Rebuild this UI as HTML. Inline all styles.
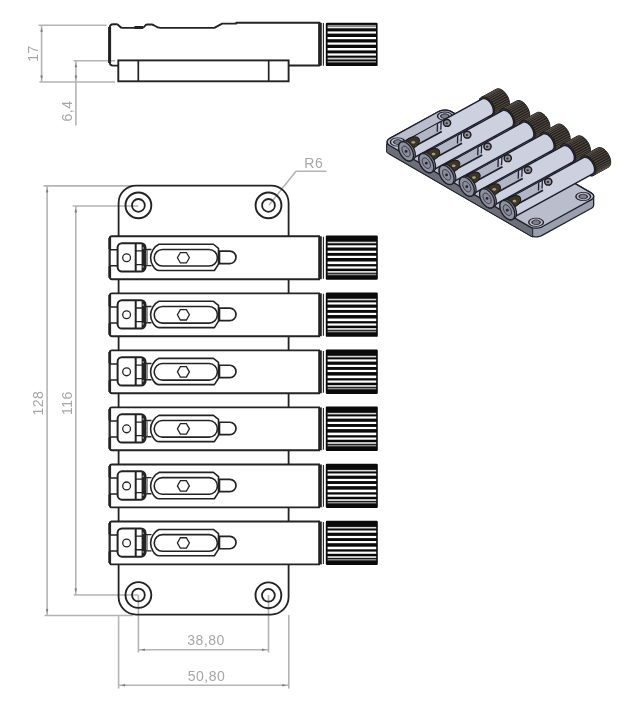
<!DOCTYPE html><html><head><meta charset="utf-8"><style>html,body{margin:0;padding:0;background:#fff;}svg{display:block;}</style></head><body><svg width="637" height="712" viewBox="0 0 637 712">
<rect width="637" height="712" fill="#fff"/>
<path d="M 38.5 25.2 H 106.5 M 39.4 82 H 115 M 41.6 25.2 V 82 M 73.6 60.8 H 115 M 75.9 60.8 V 125.5" stroke="#b4b4b4" stroke-width="1.6" fill="none"/>
<polygon points="41.6,27.8 40.3,31.4 41.6,32 42.9,31.4" fill="#808080"/>
<polygon points="41.6,79.4 40.3,75.8 41.6,75.2 42.9,75.8" fill="#808080"/>
<polygon points="75.9,63.4 74.6,67 75.9,67.6 77.2,67" fill="#808080"/>
<polygon points="75.9,79.4 74.6,75.8 75.9,75.2 77.2,75.8" fill="#808080"/>
<path d="M 43.5 185.9 H 133 M 44.5 615.5 H 133 M 47.1 185.9 V 615.5 M 72.6 206 H 138.3 M 73.7 595 H 138.3 M 75.8 206 V 595" stroke="#b4b4b4" stroke-width="1.6" fill="none"/>
<polygon points="47.1,188.5 45.8,192.1 47.1,192.7 48.4,192.1" fill="#808080"/>
<polygon points="47.1,612.9 45.8,609.3 47.1,608.7 48.4,609.3" fill="#808080"/>
<polygon points="75.8,208.6 74.5,212.2 75.8,212.8 77.1,212.2" fill="#808080"/>
<polygon points="75.8,592.4 74.5,588.8 75.8,588.2 77.1,588.8" fill="#808080"/>
<path d="M 138.4 595 V 652.5 M 268.5 595 V 652.5 M 138.4 649.7 H 268.5 M 118.6 615 V 688.5 M 288.8 615 V 688.5 M 118.6 685.3 H 288.8" stroke="#b4b4b4" stroke-width="1.6" fill="none"/>
<polygon points="141,649.7 144.6,648.4 145.2,649.7 144.6,651" fill="#808080"/>
<polygon points="265.9,649.7 262.3,648.4 261.7,649.7 262.3,651" fill="#808080"/>
<polygon points="121.2,685.3 124.8,684 125.4,685.3 124.8,686.6" fill="#808080"/>
<polygon points="286.2,685.3 282.6,684 282,685.3 282.6,686.6" fill="#808080"/>
<path d="M 269 205 L 296 171.2 H 326.5" stroke="#b4b4b4" stroke-width="1.6" fill="none"/>
<g opacity="0.995">
<text x="0" y="0" style="font-family:&quot;Liberation Sans&quot;,sans-serif" font-size="14" fill="#a6a6a6" letter-spacing="0.5" text-anchor="middle" transform="translate(38 53.4) rotate(-90)">17</text>
<text x="0" y="0" style="font-family:&quot;Liberation Sans&quot;,sans-serif" font-size="14" fill="#a6a6a6" letter-spacing="0.5" text-anchor="middle" transform="translate(72 111) rotate(-90)">6,4</text>
<text x="0" y="0" style="font-family:&quot;Liberation Sans&quot;,sans-serif" font-size="14" fill="#a6a6a6" letter-spacing="0.5" text-anchor="middle" transform="translate(43.3 403.2) rotate(-90)">128</text>
<text x="0" y="0" style="font-family:&quot;Liberation Sans&quot;,sans-serif" font-size="14" fill="#a6a6a6" letter-spacing="0.5" text-anchor="middle" transform="translate(72.1 403.2) rotate(-90)">116</text>
<text x="206.1" y="645.3" style="font-family:&quot;Liberation Sans&quot;,sans-serif" font-size="14" fill="#a6a6a6" letter-spacing="0.5" text-anchor="middle">38,80</text>
<text x="206.5" y="680.8" style="font-family:&quot;Liberation Sans&quot;,sans-serif" font-size="14" fill="#a6a6a6" letter-spacing="0.5" text-anchor="middle">50,80</text>
<text x="313.8" y="168.2" style="font-family:&quot;Liberation Sans&quot;,sans-serif" font-size="14" fill="#a6a6a6" letter-spacing="0.5" text-anchor="middle">R6</text>
</g>
<rect x="118.3" y="60.4" width="170.3" height="20.9" fill="none" stroke="#232323" stroke-width="1.9"/>
<line x1="138.3" y1="60.4" x2="138.3" y2="81.3" stroke="#232323" stroke-width="1.7"/>
<line x1="268.7" y1="60.4" x2="268.7" y2="81.3" stroke="#232323" stroke-width="1.7"/>
<path d="M 118.3 65.6 H 113.2 Q 109.7 65.6 109.7 62 V 28 Q 109.7 24.3 113.2 24.3 H 116.5 C 119 24.3 119.6 27.9 122.5 27.9 H 134.5 L 143 27.6 C 144.6 27.4 144.8 24.5 147.2 24.5 H 151.6 C 154 24.5 156 27.8 160.5 27.9 H 214.3 L 222.2 23.6 H 236.3 V 22.8 H 319.6 V 65.5 H 288.6" fill="none" stroke="#232323" stroke-width="1.9" stroke-linejoin="round"/>
<line x1="109.6" y1="27" x2="109.6" y2="63" stroke="#232323" stroke-width="3"/>
<line x1="134.5" y1="27.6" x2="143" y2="27.4" stroke="#232323" stroke-width="3"/>
<line x1="320" y1="22.8" x2="320" y2="65.7" stroke="#232323" stroke-width="3.6"/>
<line x1="323.4" y1="23" x2="323.4" y2="65.8" stroke="#222" stroke-width="1.1"/>
<rect x="325.8" y="22.7" width="51.8" height="43.4" rx="1.2" fill="#0a0a0a"/>
<rect x="327.6" y="24.9" width="48.4" height="1.4" fill="#8a8a8a"/>
<rect x="327.6" y="26.5" width="48.4" height="1.8" fill="#e8e8e8"/>
<rect x="327.6" y="31.4" width="48.4" height="2.2" fill="#fff"/>
<rect x="327.6" y="37" width="48.4" height="2.2" fill="#fff"/>
<rect x="327.6" y="42.5" width="48.4" height="2.2" fill="#fff"/>
<rect x="327.6" y="48" width="48.4" height="2.4" fill="#fff"/>
<rect x="327.6" y="53.4" width="48.4" height="2.2" fill="#fff"/>
<rect x="327.6" y="57.7" width="48.4" height="1.8" fill="#d0d0d0"/>
<rect x="327.6" y="61" width="48.4" height="1.6" fill="#8c8c8c"/>
<rect x="118.6" y="185.6" width="170.00000000000003" height="429.0" rx="17.5" fill="none" stroke="#232323" stroke-width="1.8"/>
<circle cx="138.4" cy="205.4" r="12.9" fill="none" stroke="#232323" stroke-width="1.9"/>
<circle cx="138.4" cy="205.4" r="6.4" fill="none" stroke="#232323" stroke-width="1.8"/>
<circle cx="268.5" cy="205.4" r="12.9" fill="none" stroke="#232323" stroke-width="1.9"/>
<circle cx="268.5" cy="205.4" r="6.4" fill="none" stroke="#232323" stroke-width="1.8"/>
<circle cx="138.4" cy="595" r="12.9" fill="none" stroke="#232323" stroke-width="1.9"/>
<circle cx="138.4" cy="595" r="6.4" fill="none" stroke="#232323" stroke-width="1.8"/>
<circle cx="268.4" cy="595.3" r="12.9" fill="none" stroke="#232323" stroke-width="1.9"/>
<circle cx="268.4" cy="595.3" r="6.4" fill="none" stroke="#232323" stroke-width="1.8"/>
<path d="M 320 236.3 H 112 Q 109.8 236.3 109.8 238.5 V 277 Q 109.8 279.2 112 279.2 H 320" fill="#fff" stroke="#232323" stroke-width="1.9"/>
<line x1="109.7" y1="237.8" x2="109.7" y2="249.45" stroke="#232323" stroke-width="2.8"/>
<line x1="109.7" y1="266.05" x2="109.7" y2="277.7" stroke="#232323" stroke-width="2.8"/>
<line x1="109.1" y1="249.75" x2="109.1" y2="265.75" stroke="#333" stroke-width="1"/>
<path d="M 109.5 249.85 H 117.6 M 109.5 265.85 H 117.6" stroke="#232323" stroke-width="1.5" fill="none"/>
<rect x="117.6" y="243.2" width="27.9" height="28.3" rx="4.4" fill="#fff" stroke="#232323" stroke-width="2"/>
<circle cx="126.6" cy="257.75" r="3.9" fill="none" stroke="#232323" stroke-width="1.3"/>
<line x1="135.7" y1="243.2" x2="135.7" y2="271.5" stroke="#232323" stroke-width="2"/>
<path d="M 135.7 250.95 H 145.4 M 135.7 264.55 H 145.4" stroke="#232323" stroke-width="1.3" fill="none"/>
<rect x="141.6" y="243.9" width="3.4" height="27" fill="#232323"/>
<rect x="142.4" y="247.2" width="1.5" height="1.7" fill="#888"/>
<rect x="142.4" y="265.9" width="1.5" height="1.7" fill="#888"/>
<path d="M 145.5 249.45 H 151.5 M 145.5 265.65 H 151.5" stroke="#232323" stroke-width="1.4" fill="none"/>
<line x1="147.3" y1="249.75" x2="147.3" y2="265.75" stroke="#555" stroke-width="0.8"/>
<path d="M 159 244.25 H 213.4 L 218.5 248.35 V 264.15 L 214.4 270.55 H 159 C 154 270.25 150.6 262.75 150.6 257.75 C 150.6 252.75 154 246.25 159 244.25 Z" fill="none" stroke="#232323" stroke-width="1.6" stroke-linejoin="round"/>
<rect x="154.2" y="249.45" width="63.2" height="16.6" rx="8.3" fill="none" stroke="#232323" stroke-width="1.6"/>
<polygon points="189.4,257.75 186.4,262.95 180.4,262.95 177.4,257.75 180.4,252.55 186.4,252.55" fill="none" stroke="#232323" stroke-width="1.3"/>
<path d="M 219 251.15 H 229.8 A 6.2 6.2 0 0 1 229.8 263.55 H 219" fill="#fff" stroke="#232323" stroke-width="1.7"/>
<line x1="219.2" y1="251.15" x2="219.2" y2="263.55" stroke="#232323" stroke-width="2.2"/>
<line x1="320" y1="236.3" x2="320" y2="279.2" stroke="#232323" stroke-width="3.6"/>
<line x1="323.4" y1="236.8" x2="323.4" y2="278.7" stroke="#222" stroke-width="1.1"/>
<rect x="325.8" y="235.5" width="52" height="44.3" rx="1.2" fill="#0a0a0a"/>
<rect x="327.6" y="241.7" width="48.6" height="1.6" fill="#d8d8d8"/>
<rect x="327.6" y="245.3" width="48.6" height="2.2" fill="#fff"/>
<rect x="327.6" y="250.7" width="48.6" height="2.2" fill="#fff"/>
<rect x="327.6" y="255.8" width="48.6" height="2.2" fill="#fff"/>
<rect x="327.6" y="261.5" width="48.6" height="2.6" fill="#fff"/>
<rect x="327.6" y="266.4" width="48.6" height="2.2" fill="#fff"/>
<rect x="327.6" y="271" width="48.6" height="1.8" fill="#d8d8d8"/>
<rect x="327.6" y="273.7" width="48.6" height="1.6" fill="#8a8a8a"/>
<path d="M 320 293.34 H 112 Q 109.8 293.34 109.8 295.54 V 334.04 Q 109.8 336.24 112 336.24 H 320" fill="#fff" stroke="#232323" stroke-width="1.9"/>
<line x1="109.7" y1="294.84" x2="109.7" y2="306.49" stroke="#232323" stroke-width="2.8"/>
<line x1="109.7" y1="323.09" x2="109.7" y2="334.74" stroke="#232323" stroke-width="2.8"/>
<line x1="109.1" y1="306.79" x2="109.1" y2="322.79" stroke="#333" stroke-width="1"/>
<path d="M 109.5 306.89 H 117.6 M 109.5 322.89 H 117.6" stroke="#232323" stroke-width="1.5" fill="none"/>
<rect x="117.6" y="300.24" width="27.9" height="28.3" rx="4.4" fill="#fff" stroke="#232323" stroke-width="2"/>
<circle cx="126.6" cy="314.79" r="3.9" fill="none" stroke="#232323" stroke-width="1.3"/>
<line x1="135.7" y1="300.24" x2="135.7" y2="328.54" stroke="#232323" stroke-width="2"/>
<path d="M 135.7 307.99 H 145.4 M 135.7 321.59 H 145.4" stroke="#232323" stroke-width="1.3" fill="none"/>
<rect x="141.6" y="300.94" width="3.4" height="27" fill="#232323"/>
<rect x="142.4" y="304.24" width="1.5" height="1.7" fill="#888"/>
<rect x="142.4" y="322.94" width="1.5" height="1.7" fill="#888"/>
<path d="M 145.5 306.49 H 151.5 M 145.5 322.69 H 151.5" stroke="#232323" stroke-width="1.4" fill="none"/>
<line x1="147.3" y1="306.79" x2="147.3" y2="322.79" stroke="#555" stroke-width="0.8"/>
<path d="M 159 301.29 H 213.4 L 218.5 305.39 V 321.19 L 214.4 327.59 H 159 C 154 327.29 150.6 319.79 150.6 314.79 C 150.6 309.79 154 303.29 159 301.29 Z" fill="none" stroke="#232323" stroke-width="1.6" stroke-linejoin="round"/>
<rect x="154.2" y="306.49" width="63.2" height="16.6" rx="8.3" fill="none" stroke="#232323" stroke-width="1.6"/>
<polygon points="189.4,314.79 186.4,319.99 180.4,319.99 177.4,314.79 180.4,309.59 186.4,309.59" fill="none" stroke="#232323" stroke-width="1.3"/>
<path d="M 219 308.19 H 229.8 A 6.2 6.2 0 0 1 229.8 320.59 H 219" fill="#fff" stroke="#232323" stroke-width="1.7"/>
<line x1="219.2" y1="308.19" x2="219.2" y2="320.59" stroke="#232323" stroke-width="2.2"/>
<line x1="320" y1="293.34" x2="320" y2="336.24" stroke="#232323" stroke-width="3.6"/>
<line x1="323.4" y1="293.84" x2="323.4" y2="335.74" stroke="#222" stroke-width="1.1"/>
<rect x="325.8" y="292.54" width="52" height="44.3" rx="1.2" fill="#0a0a0a"/>
<rect x="327.6" y="298.74" width="48.6" height="1.6" fill="#d8d8d8"/>
<rect x="327.6" y="302.34" width="48.6" height="2.2" fill="#fff"/>
<rect x="327.6" y="307.74" width="48.6" height="2.2" fill="#fff"/>
<rect x="327.6" y="312.84" width="48.6" height="2.2" fill="#fff"/>
<rect x="327.6" y="318.54" width="48.6" height="2.6" fill="#fff"/>
<rect x="327.6" y="323.44" width="48.6" height="2.2" fill="#fff"/>
<rect x="327.6" y="328.04" width="48.6" height="1.8" fill="#d8d8d8"/>
<rect x="327.6" y="330.74" width="48.6" height="1.6" fill="#8a8a8a"/>
<path d="M 320 350.38 H 112 Q 109.8 350.38 109.8 352.58 V 391.08 Q 109.8 393.28 112 393.28 H 320" fill="#fff" stroke="#232323" stroke-width="1.9"/>
<line x1="109.7" y1="351.88" x2="109.7" y2="363.53" stroke="#232323" stroke-width="2.8"/>
<line x1="109.7" y1="380.13" x2="109.7" y2="391.78" stroke="#232323" stroke-width="2.8"/>
<line x1="109.1" y1="363.83" x2="109.1" y2="379.83" stroke="#333" stroke-width="1"/>
<path d="M 109.5 363.93 H 117.6 M 109.5 379.93 H 117.6" stroke="#232323" stroke-width="1.5" fill="none"/>
<rect x="117.6" y="357.28" width="27.9" height="28.3" rx="4.4" fill="#fff" stroke="#232323" stroke-width="2"/>
<circle cx="126.6" cy="371.83" r="3.9" fill="none" stroke="#232323" stroke-width="1.3"/>
<line x1="135.7" y1="357.28" x2="135.7" y2="385.58" stroke="#232323" stroke-width="2"/>
<path d="M 135.7 365.03 H 145.4 M 135.7 378.63 H 145.4" stroke="#232323" stroke-width="1.3" fill="none"/>
<rect x="141.6" y="357.98" width="3.4" height="27" fill="#232323"/>
<rect x="142.4" y="361.28" width="1.5" height="1.7" fill="#888"/>
<rect x="142.4" y="379.98" width="1.5" height="1.7" fill="#888"/>
<path d="M 145.5 363.53 H 151.5 M 145.5 379.73 H 151.5" stroke="#232323" stroke-width="1.4" fill="none"/>
<line x1="147.3" y1="363.83" x2="147.3" y2="379.83" stroke="#555" stroke-width="0.8"/>
<path d="M 159 358.33 H 213.4 L 218.5 362.43 V 378.23 L 214.4 384.63 H 159 C 154 384.33 150.6 376.83 150.6 371.83 C 150.6 366.83 154 360.33 159 358.33 Z" fill="none" stroke="#232323" stroke-width="1.6" stroke-linejoin="round"/>
<rect x="154.2" y="363.53" width="63.2" height="16.6" rx="8.3" fill="none" stroke="#232323" stroke-width="1.6"/>
<polygon points="189.4,371.83 186.4,377.03 180.4,377.03 177.4,371.83 180.4,366.63 186.4,366.63" fill="none" stroke="#232323" stroke-width="1.3"/>
<path d="M 219 365.23 H 229.8 A 6.2 6.2 0 0 1 229.8 377.63 H 219" fill="#fff" stroke="#232323" stroke-width="1.7"/>
<line x1="219.2" y1="365.23" x2="219.2" y2="377.63" stroke="#232323" stroke-width="2.2"/>
<line x1="320" y1="350.38" x2="320" y2="393.28" stroke="#232323" stroke-width="3.6"/>
<line x1="323.4" y1="350.88" x2="323.4" y2="392.78" stroke="#222" stroke-width="1.1"/>
<rect x="325.8" y="349.58" width="52" height="44.3" rx="1.2" fill="#0a0a0a"/>
<rect x="327.6" y="355.78" width="48.6" height="1.6" fill="#d8d8d8"/>
<rect x="327.6" y="359.38" width="48.6" height="2.2" fill="#fff"/>
<rect x="327.6" y="364.78" width="48.6" height="2.2" fill="#fff"/>
<rect x="327.6" y="369.88" width="48.6" height="2.2" fill="#fff"/>
<rect x="327.6" y="375.58" width="48.6" height="2.6" fill="#fff"/>
<rect x="327.6" y="380.48" width="48.6" height="2.2" fill="#fff"/>
<rect x="327.6" y="385.08" width="48.6" height="1.8" fill="#d8d8d8"/>
<rect x="327.6" y="387.78" width="48.6" height="1.6" fill="#8a8a8a"/>
<path d="M 320 407.42 H 112 Q 109.8 407.42 109.8 409.62 V 448.12 Q 109.8 450.32 112 450.32 H 320" fill="#fff" stroke="#232323" stroke-width="1.9"/>
<line x1="109.7" y1="408.92" x2="109.7" y2="420.57" stroke="#232323" stroke-width="2.8"/>
<line x1="109.7" y1="437.17" x2="109.7" y2="448.82" stroke="#232323" stroke-width="2.8"/>
<line x1="109.1" y1="420.87" x2="109.1" y2="436.87" stroke="#333" stroke-width="1"/>
<path d="M 109.5 420.97 H 117.6 M 109.5 436.97 H 117.6" stroke="#232323" stroke-width="1.5" fill="none"/>
<rect x="117.6" y="414.32" width="27.9" height="28.3" rx="4.4" fill="#fff" stroke="#232323" stroke-width="2"/>
<circle cx="126.6" cy="428.87" r="3.9" fill="none" stroke="#232323" stroke-width="1.3"/>
<line x1="135.7" y1="414.32" x2="135.7" y2="442.62" stroke="#232323" stroke-width="2"/>
<path d="M 135.7 422.07 H 145.4 M 135.7 435.67 H 145.4" stroke="#232323" stroke-width="1.3" fill="none"/>
<rect x="141.6" y="415.02" width="3.4" height="27" fill="#232323"/>
<rect x="142.4" y="418.32" width="1.5" height="1.7" fill="#888"/>
<rect x="142.4" y="437.02" width="1.5" height="1.7" fill="#888"/>
<path d="M 145.5 420.57 H 151.5 M 145.5 436.77 H 151.5" stroke="#232323" stroke-width="1.4" fill="none"/>
<line x1="147.3" y1="420.87" x2="147.3" y2="436.87" stroke="#555" stroke-width="0.8"/>
<path d="M 159 415.37 H 213.4 L 218.5 419.47 V 435.27 L 214.4 441.67 H 159 C 154 441.37 150.6 433.87 150.6 428.87 C 150.6 423.87 154 417.37 159 415.37 Z" fill="none" stroke="#232323" stroke-width="1.6" stroke-linejoin="round"/>
<rect x="154.2" y="420.57" width="63.2" height="16.6" rx="8.3" fill="none" stroke="#232323" stroke-width="1.6"/>
<polygon points="189.4,428.87 186.4,434.07 180.4,434.07 177.4,428.87 180.4,423.67 186.4,423.67" fill="none" stroke="#232323" stroke-width="1.3"/>
<path d="M 219 422.27 H 229.8 A 6.2 6.2 0 0 1 229.8 434.67 H 219" fill="#fff" stroke="#232323" stroke-width="1.7"/>
<line x1="219.2" y1="422.27" x2="219.2" y2="434.67" stroke="#232323" stroke-width="2.2"/>
<line x1="320" y1="407.42" x2="320" y2="450.32" stroke="#232323" stroke-width="3.6"/>
<line x1="323.4" y1="407.92" x2="323.4" y2="449.82" stroke="#222" stroke-width="1.1"/>
<rect x="325.8" y="406.62" width="52" height="44.3" rx="1.2" fill="#0a0a0a"/>
<rect x="327.6" y="412.82" width="48.6" height="1.6" fill="#d8d8d8"/>
<rect x="327.6" y="416.42" width="48.6" height="2.2" fill="#fff"/>
<rect x="327.6" y="421.82" width="48.6" height="2.2" fill="#fff"/>
<rect x="327.6" y="426.92" width="48.6" height="2.2" fill="#fff"/>
<rect x="327.6" y="432.62" width="48.6" height="2.6" fill="#fff"/>
<rect x="327.6" y="437.52" width="48.6" height="2.2" fill="#fff"/>
<rect x="327.6" y="442.12" width="48.6" height="1.8" fill="#d8d8d8"/>
<rect x="327.6" y="444.82" width="48.6" height="1.6" fill="#8a8a8a"/>
<path d="M 320 464.46 H 112 Q 109.8 464.46 109.8 466.66 V 505.16 Q 109.8 507.36 112 507.36 H 320" fill="#fff" stroke="#232323" stroke-width="1.9"/>
<line x1="109.7" y1="465.96" x2="109.7" y2="477.61" stroke="#232323" stroke-width="2.8"/>
<line x1="109.7" y1="494.21" x2="109.7" y2="505.86" stroke="#232323" stroke-width="2.8"/>
<line x1="109.1" y1="477.91" x2="109.1" y2="493.91" stroke="#333" stroke-width="1"/>
<path d="M 109.5 478.01 H 117.6 M 109.5 494.01 H 117.6" stroke="#232323" stroke-width="1.5" fill="none"/>
<rect x="117.6" y="471.36" width="27.9" height="28.3" rx="4.4" fill="#fff" stroke="#232323" stroke-width="2"/>
<circle cx="126.6" cy="485.91" r="3.9" fill="none" stroke="#232323" stroke-width="1.3"/>
<line x1="135.7" y1="471.36" x2="135.7" y2="499.66" stroke="#232323" stroke-width="2"/>
<path d="M 135.7 479.11 H 145.4 M 135.7 492.71 H 145.4" stroke="#232323" stroke-width="1.3" fill="none"/>
<rect x="141.6" y="472.06" width="3.4" height="27" fill="#232323"/>
<rect x="142.4" y="475.36" width="1.5" height="1.7" fill="#888"/>
<rect x="142.4" y="494.06" width="1.5" height="1.7" fill="#888"/>
<path d="M 145.5 477.61 H 151.5 M 145.5 493.81 H 151.5" stroke="#232323" stroke-width="1.4" fill="none"/>
<line x1="147.3" y1="477.91" x2="147.3" y2="493.91" stroke="#555" stroke-width="0.8"/>
<path d="M 159 472.41 H 213.4 L 218.5 476.51 V 492.31 L 214.4 498.71 H 159 C 154 498.41 150.6 490.91 150.6 485.91 C 150.6 480.91 154 474.41 159 472.41 Z" fill="none" stroke="#232323" stroke-width="1.6" stroke-linejoin="round"/>
<rect x="154.2" y="477.61" width="63.2" height="16.6" rx="8.3" fill="none" stroke="#232323" stroke-width="1.6"/>
<polygon points="189.4,485.91 186.4,491.11 180.4,491.11 177.4,485.91 180.4,480.71 186.4,480.71" fill="none" stroke="#232323" stroke-width="1.3"/>
<path d="M 219 479.31 H 229.8 A 6.2 6.2 0 0 1 229.8 491.71 H 219" fill="#fff" stroke="#232323" stroke-width="1.7"/>
<line x1="219.2" y1="479.31" x2="219.2" y2="491.71" stroke="#232323" stroke-width="2.2"/>
<line x1="320" y1="464.46" x2="320" y2="507.36" stroke="#232323" stroke-width="3.6"/>
<line x1="323.4" y1="464.96" x2="323.4" y2="506.86" stroke="#222" stroke-width="1.1"/>
<rect x="325.8" y="463.66" width="52" height="44.3" rx="1.2" fill="#0a0a0a"/>
<rect x="327.6" y="469.86" width="48.6" height="1.6" fill="#d8d8d8"/>
<rect x="327.6" y="473.46" width="48.6" height="2.2" fill="#fff"/>
<rect x="327.6" y="478.86" width="48.6" height="2.2" fill="#fff"/>
<rect x="327.6" y="483.96" width="48.6" height="2.2" fill="#fff"/>
<rect x="327.6" y="489.66" width="48.6" height="2.6" fill="#fff"/>
<rect x="327.6" y="494.56" width="48.6" height="2.2" fill="#fff"/>
<rect x="327.6" y="499.16" width="48.6" height="1.8" fill="#d8d8d8"/>
<rect x="327.6" y="501.86" width="48.6" height="1.6" fill="#8a8a8a"/>
<path d="M 320 521.5 H 112 Q 109.8 521.5 109.8 523.7 V 562.2 Q 109.8 564.4 112 564.4 H 320" fill="#fff" stroke="#232323" stroke-width="1.9"/>
<line x1="109.7" y1="523" x2="109.7" y2="534.65" stroke="#232323" stroke-width="2.8"/>
<line x1="109.7" y1="551.25" x2="109.7" y2="562.9" stroke="#232323" stroke-width="2.8"/>
<line x1="109.1" y1="534.95" x2="109.1" y2="550.95" stroke="#333" stroke-width="1"/>
<path d="M 109.5 535.05 H 117.6 M 109.5 551.05 H 117.6" stroke="#232323" stroke-width="1.5" fill="none"/>
<rect x="117.6" y="528.4" width="27.9" height="28.3" rx="4.4" fill="#fff" stroke="#232323" stroke-width="2"/>
<circle cx="126.6" cy="542.95" r="3.9" fill="none" stroke="#232323" stroke-width="1.3"/>
<line x1="135.7" y1="528.4" x2="135.7" y2="556.7" stroke="#232323" stroke-width="2"/>
<path d="M 135.7 536.15 H 145.4 M 135.7 549.75 H 145.4" stroke="#232323" stroke-width="1.3" fill="none"/>
<rect x="141.6" y="529.1" width="3.4" height="27" fill="#232323"/>
<rect x="142.4" y="532.4" width="1.5" height="1.7" fill="#888"/>
<rect x="142.4" y="551.1" width="1.5" height="1.7" fill="#888"/>
<path d="M 145.5 534.65 H 151.5 M 145.5 550.85 H 151.5" stroke="#232323" stroke-width="1.4" fill="none"/>
<line x1="147.3" y1="534.95" x2="147.3" y2="550.95" stroke="#555" stroke-width="0.8"/>
<path d="M 159 529.45 H 213.4 L 218.5 533.55 V 549.35 L 214.4 555.75 H 159 C 154 555.45 150.6 547.95 150.6 542.95 C 150.6 537.95 154 531.45 159 529.45 Z" fill="none" stroke="#232323" stroke-width="1.6" stroke-linejoin="round"/>
<rect x="154.2" y="534.65" width="63.2" height="16.6" rx="8.3" fill="none" stroke="#232323" stroke-width="1.6"/>
<polygon points="189.4,542.95 186.4,548.15 180.4,548.15 177.4,542.95 180.4,537.75 186.4,537.75" fill="none" stroke="#232323" stroke-width="1.3"/>
<path d="M 219 536.35 H 229.8 A 6.2 6.2 0 0 1 229.8 548.75 H 219" fill="#fff" stroke="#232323" stroke-width="1.7"/>
<line x1="219.2" y1="536.35" x2="219.2" y2="548.75" stroke="#232323" stroke-width="2.2"/>
<line x1="320" y1="521.5" x2="320" y2="564.4" stroke="#232323" stroke-width="3.6"/>
<line x1="323.4" y1="522" x2="323.4" y2="563.9" stroke="#222" stroke-width="1.1"/>
<rect x="325.8" y="520.7" width="52" height="44.3" rx="1.2" fill="#0a0a0a"/>
<rect x="327.6" y="526.9" width="48.6" height="1.6" fill="#d8d8d8"/>
<rect x="327.6" y="530.5" width="48.6" height="2.2" fill="#fff"/>
<rect x="327.6" y="535.9" width="48.6" height="2.2" fill="#fff"/>
<rect x="327.6" y="541" width="48.6" height="2.2" fill="#fff"/>
<rect x="327.6" y="546.7" width="48.6" height="2.6" fill="#fff"/>
<rect x="327.6" y="551.6" width="48.6" height="2.2" fill="#fff"/>
<rect x="327.6" y="556.2" width="48.6" height="1.8" fill="#d8d8d8"/>
<rect x="327.6" y="558.9" width="48.6" height="1.6" fill="#8a8a8a"/>
<polygon points="387.18,141.94 387.3,141.15 387.64,140.39 388.18,139.67 388.92,139.01 389.83,138.42 438.7,111.55 439.77,111.05 440.97,110.65 442.26,110.36 443.62,110.19 445,110.15 446.39,110.22 447.74,110.42 449.02,110.73 450.2,111.15 451.25,111.67 591.12,192.84 592.02,193.45 592.73,194.12 593.25,194.85 593.56,195.62 593.66,196.41 593.66,205.02 593.54,205.8 593.2,206.56 592.65,207.28 591.91,207.95 591,208.54 542.13,235.4 541.06,235.9 539.87,236.3 538.58,236.59 537.22,236.76 535.83,236.81 534.44,236.73 533.09,236.54 531.81,236.22 530.63,235.8 529.58,235.28 389.71,154.12 388.82,153.51 388.1,152.83 387.58,152.1 387.27,151.33 387.18,150.55" fill="#9b9eac" stroke="#22242e" stroke-width="1.3" stroke-linejoin="round" />
<polygon points="386.61,143.7 532.69,228.47 532.69,237.08 386.61,152.31" fill="#6c6e78" stroke="#22242e" stroke-width="1.0" stroke-linejoin="round" />
<polygon points="438.7,111.55 439.77,111.05 440.97,110.65 442.26,110.36 443.62,110.19 445,110.15 446.39,110.22 447.74,110.42 449.02,110.73 450.2,111.15 451.25,111.68 591.12,192.84 592.02,193.45 592.73,194.12 593.25,194.86 593.56,195.62 593.66,196.41 593.54,197.19 593.2,197.95 592.65,198.67 591.91,199.34 591,199.93 542.13,226.79 541.06,227.29 539.87,227.69 538.58,227.98 537.22,228.15 535.83,228.2 534.44,228.12 533.09,227.93 531.81,227.61 530.63,227.19 529.58,226.67 389.71,145.5 388.82,144.9 388.1,144.22 387.58,143.49 387.27,142.72 387.18,141.94 387.3,141.15 387.64,140.39 388.18,139.67 388.92,139.01 389.83,138.42" fill="#babdcc" stroke="#1e202a" stroke-width="1.3" stroke-linejoin="round" />
<circle cx="0" cy="0" r="14.5" fill="#babdcc" stroke="#1e202a" stroke-width="2.82" transform="matrix(0.362 -0.199 0.355 0.206 397.77 142.04)"/>
<circle cx="0" cy="0" r="8.0" fill="#7d808c" stroke="#2a2c36" stroke-width="2.31" transform="matrix(0.362 -0.199 0.355 0.206 397.77 142.04)"/>
<circle cx="0" cy="0" r="14.5" fill="#babdcc" stroke="#1e202a" stroke-width="2.82" transform="matrix(0.362 -0.199 0.355 0.206 444.86 116.15)"/>
<circle cx="0" cy="0" r="8.0" fill="#7d808c" stroke="#2a2c36" stroke-width="2.31" transform="matrix(0.362 -0.199 0.355 0.206 444.86 116.15)"/>
<circle cx="0" cy="0" r="14.5" fill="#babdcc" stroke="#1e202a" stroke-width="2.82" transform="matrix(0.362 -0.199 0.355 0.206 536.08 222.3)"/>
<circle cx="0" cy="0" r="8.0" fill="#7d808c" stroke="#2a2c36" stroke-width="2.31" transform="matrix(0.362 -0.199 0.355 0.206 536.08 222.3)"/>
<circle cx="0" cy="0" r="14.5" fill="#babdcc" stroke="#1e202a" stroke-width="2.82" transform="matrix(0.362 -0.199 0.355 0.206 583.24 196.49)"/>
<circle cx="0" cy="0" r="8.0" fill="#7d808c" stroke="#2a2c36" stroke-width="2.31" transform="matrix(0.362 -0.199 0.355 0.206 583.24 196.49)"/>
<polygon points="478.99,102.47 479.06,101.33 479.25,100.29 479.58,99.37 480.03,98.57 480.6,97.92 481.27,97.42 496.12,89.26 496.88,88.93 497.74,88.77 498.65,88.78 499.62,88.96 500.62,89.31 501.64,89.83 502.66,90.5 503.66,91.31 504.63,92.25 505.55,93.3 506.39,94.45 507.16,95.67 507.84,96.95 508.4,98.26 508.86,99.58 509.18,100.89 509.38,102.16 509.45,103.38 509.38,104.52 509.18,105.56 508.86,106.48 508.4,107.28 507.84,107.93 507.16,108.43 492.32,116.59 491.55,116.92 490.7,117.08 489.79,117.07 488.82,116.89 487.82,116.54 486.8,116.03 485.78,115.36 484.78,114.55 483.81,113.6 482.89,112.55 482.04,111.4 481.27,110.18 480.6,108.9 480.03,107.59 479.58,106.27 479.25,104.96 479.06,103.69" fill="#27221f" stroke="#151210" stroke-width="1.0" stroke-linejoin="round" />
<line x1="493.33" y1="115.65" x2="506.91" y2="108.19" stroke="#5a524c" stroke-width="0.9" stroke-linecap="round" />
<line x1="494.38" y1="114.68" x2="507.95" y2="107.22" stroke="#5a524c" stroke-width="0.9" stroke-linecap="round" />
<line x1="495.09" y1="113.29" x2="508.66" y2="105.83" stroke="#5a524c" stroke-width="0.9" stroke-linecap="round" />
<line x1="495.43" y1="111.55" x2="509.01" y2="104.09" stroke="#5a524c" stroke-width="0.9" stroke-linecap="round" />
<line x1="495.39" y1="109.54" x2="508.96" y2="102.08" stroke="#5a524c" stroke-width="0.9" stroke-linecap="round" />
<line x1="494.96" y1="107.38" x2="508.53" y2="99.91" stroke="#5a524c" stroke-width="0.9" stroke-linecap="round" />
<line x1="494.16" y1="105.16" x2="507.74" y2="97.7" stroke="#5a524c" stroke-width="0.9" stroke-linecap="round" />
<line x1="493.05" y1="103.01" x2="506.63" y2="95.54" stroke="#5a524c" stroke-width="0.9" stroke-linecap="round" />
<line x1="491.67" y1="101.03" x2="505.25" y2="93.57" stroke="#5a524c" stroke-width="0.9" stroke-linecap="round" />
<line x1="490.1" y1="99.33" x2="503.67" y2="91.86" stroke="#5a524c" stroke-width="0.9" stroke-linecap="round" />
<line x1="488.41" y1="97.99" x2="501.99" y2="90.52" stroke="#5a524c" stroke-width="0.9" stroke-linecap="round" />
<line x1="486.7" y1="97.08" x2="500.27" y2="89.62" stroke="#5a524c" stroke-width="0.9" stroke-linecap="round" />
<line x1="485.05" y1="96.65" x2="498.62" y2="89.19" stroke="#5a524c" stroke-width="0.9" stroke-linecap="round" />
<line x1="483.54" y1="96.72" x2="497.11" y2="89.26" stroke="#5a524c" stroke-width="0.9" stroke-linecap="round" />
<polygon points="494.61,111.54 494.54,110.32 494.34,109.05 494.01,107.74 493.56,106.42 492.99,105.11 492.32,103.83 491.55,102.61 490.7,101.46 489.79,100.41 488.82,99.47 487.82,98.65 486.8,97.98 485.78,97.47 484.78,97.12 483.81,96.94 482.89,96.93 482.04,97.09 481.28,97.42 480.6,97.92 480.03,98.57 479.58,99.37 479.25,100.29 479.05,101.33 478.99,102.47 479.05,103.69 479.25,104.96 479.58,106.27 480.03,107.59 480.6,108.9 481.28,110.18 482.04,111.4 482.89,112.55 483.81,113.6 484.78,114.54 485.78,115.36 486.8,116.03 487.82,116.54 488.82,116.89 489.79,117.07 490.7,117.08 491.55,116.92 492.32,116.59 492.99,116.09 493.56,115.44 494.01,114.64 494.34,113.72 494.54,112.68" fill="#4a4744" stroke="#1a1613" stroke-width="0.9" stroke-linejoin="round" />
<polygon points="400.56,146.95 400.61,145.99 400.78,145.11 401.06,144.33 401.44,143.65 401.92,143.1 402.49,142.68 482.13,98.9 482.78,98.62 483.5,98.48 484.27,98.49 485.09,98.65 485.94,98.94 486.8,99.38 487.66,99.94 488.51,100.63 489.32,101.43 490.1,102.32 490.82,103.29 491.47,104.32 492.04,105.4 492.52,106.51 492.9,107.63 493.18,108.73 493.34,109.81 493.4,110.84 493.34,111.8 493.18,112.68 492.9,113.46 492.52,114.14 492.04,114.69 491.47,115.11 411.83,158.89 411.18,159.17 410.46,159.31 409.69,159.3 408.87,159.14 408.02,158.85 407.16,158.41 406.3,157.85 405.45,157.16 404.63,156.36 403.86,155.47 403.14,154.5 402.49,153.47 401.92,152.39 401.44,151.28 401.06,150.16 400.78,149.06 400.61,147.98" fill="#cdd0de" stroke="#1d1f2d" stroke-width="1.5" stroke-linejoin="round" />
<polygon points="406.83,140.77 437.6,123.85 441.77,131.42 411,148.33" fill="#b2b5c3" stroke="none" stroke-width="0" stroke-linejoin="round" />
<line x1="411" y1="148.33" x2="441.77" y2="131.42" stroke="#1f2130" stroke-width="1.7"/>
<line x1="437.51" y1="123.68" x2="437.21" y2="131.68" stroke="#1f2130" stroke-width="1.3"/>
<line x1="441.13" y1="121.69" x2="440.83" y2="129.69" stroke="#1f2130" stroke-width="1.3"/>
<ellipse cx="447.01" cy="122.95" rx="3.6" ry="3.4" fill="#8e8f96" stroke="#1c1c22" stroke-width="1.5"/>
<ellipse cx="446.71" cy="123.25" rx="1.2" ry="1.1" fill="#2a2a2e"/>
<ellipse cx="411.46" cy="143.17" rx="8.8" ry="5.4" transform="rotate(-30 411.46 143.17)" fill="#3a3429" stroke="#1a1814" stroke-width="0.9"/>
<ellipse cx="413.26" cy="142.37" rx="1.9" ry="1.4" fill="#a39a7c"/>
<ellipse cx="408.26" cy="144.77" rx="1.5" ry="1.0" fill="#7d765e"/>
<polygon points="398.62,147.06 398.68,145.97 398.87,144.97 399.18,144.09 399.62,143.33 400.16,142.71 400.8,142.24 402.61,141.24 403.34,140.92 404.15,140.77 405.03,140.78 405.95,140.95 406.91,141.29 407.88,141.78 408.86,142.41 409.81,143.19 410.74,144.09 411.61,145.09 412.42,146.19 413.15,147.36 413.8,148.58 414.34,149.83 414.77,151.09 415.08,152.34 415.27,153.55 415.34,154.71 415.27,155.8 415.08,156.79 414.77,157.68 414.34,158.44 413.8,159.06 413.15,159.53 411.34,160.53 410.61,160.85 409.8,161 408.93,160.99 408,160.82 407.05,160.48 406.07,159.99 405.1,159.35 404.14,158.58 403.22,157.68 402.34,156.68 401.53,155.58 400.8,154.41 400.16,153.19 399.62,151.94 399.18,150.68 398.87,149.43 398.68,148.22" fill="#7f818e" stroke="#1e2029" stroke-width="1.2" stroke-linejoin="round" />
<polygon points="413.53,155.71 413.46,154.55 413.27,153.33 412.96,152.08 412.53,150.82 411.99,149.57 411.34,148.35 410.61,147.18 409.8,146.09 408.92,145.08 408,144.19 407.04,143.41 406.07,142.77 405.1,142.28 404.14,141.95 403.22,141.77 402.34,141.76 401.53,141.92 400.8,142.23 400.16,142.71 399.62,143.33 399.18,144.09 398.87,144.97 398.68,145.97 398.62,147.06 398.68,148.22 398.87,149.43 399.18,150.68 399.62,151.94 400.16,153.19 400.8,154.41 401.53,155.58 402.34,156.68 403.22,157.68 404.14,158.58 405.1,159.35 406.07,159.99 407.04,160.48 408,160.82 408.92,160.99 409.8,161 410.61,160.85 411.34,160.53 411.99,160.06 412.53,159.43 412.96,158.67 413.27,157.79 413.46,156.79" fill="#8f919e" stroke="#1e2029" stroke-width="1.3" stroke-linejoin="round" />
<polygon points="410.17,153.76 410.14,153.12 410.03,152.45 409.86,151.77 409.62,151.07 409.32,150.39 408.97,149.72 408.57,149.07 408.12,148.47 407.64,147.92 407.13,147.42 406.61,147 406.07,146.65 405.54,146.38 405.01,146.19 404.5,146.1 404.02,146.09 403.58,146.18 403.17,146.35 402.82,146.61 402.52,146.95 402.28,147.37 402.11,147.86 402.01,148.4 401.97,149 402.01,149.64 402.11,150.31 402.28,151 402.52,151.69 402.82,152.38 403.17,153.05 403.58,153.69 404.02,154.29 404.5,154.85 405.01,155.34 405.54,155.77 406.07,156.12 406.61,156.39 407.13,156.57 407.64,156.67 408.12,156.67 408.57,156.59 408.97,156.41 409.32,156.15 409.62,155.81 409.86,155.39 410.03,154.91 410.14,154.36" fill="#8a8c99" stroke="#2e3040" stroke-width="1.0" stroke-linejoin="round" />
<circle cx="406.07" cy="151.38" r="1.4" fill="#23252f"/>
<polygon points="499.24,114.22 499.3,113.08 499.5,112.04 499.83,111.12 500.28,110.32 500.85,109.67 501.52,109.17 516.37,101.01 517.13,100.68 517.98,100.52 518.9,100.53 519.87,100.71 520.87,101.06 521.89,101.58 522.91,102.25 523.91,103.06 524.88,104 525.79,105.05 526.64,106.2 527.41,107.42 528.09,108.7 528.65,110.01 529.1,111.33 529.43,112.64 529.63,113.91 529.7,115.13 529.63,116.27 529.43,117.31 529.1,118.23 528.65,119.03 528.09,119.68 527.41,120.18 512.57,128.34 511.8,128.67 510.95,128.83 510.04,128.82 509.07,128.64 508.07,128.29 507.05,127.78 506.03,127.11 505.03,126.3 504.06,125.35 503.14,124.3 502.29,123.15 501.52,121.93 500.85,120.65 500.28,119.34 499.83,118.02 499.5,116.71 499.3,115.44" fill="#27221f" stroke="#151210" stroke-width="1.0" stroke-linejoin="round" />
<line x1="513.58" y1="127.4" x2="527.16" y2="119.94" stroke="#5a524c" stroke-width="0.9" stroke-linecap="round" />
<line x1="514.63" y1="126.43" x2="528.2" y2="118.97" stroke="#5a524c" stroke-width="0.9" stroke-linecap="round" />
<line x1="515.34" y1="125.04" x2="528.91" y2="117.58" stroke="#5a524c" stroke-width="0.9" stroke-linecap="round" />
<line x1="515.68" y1="123.3" x2="529.25" y2="115.84" stroke="#5a524c" stroke-width="0.9" stroke-linecap="round" />
<line x1="515.63" y1="121.29" x2="529.21" y2="113.83" stroke="#5a524c" stroke-width="0.9" stroke-linecap="round" />
<line x1="515.21" y1="119.13" x2="528.78" y2="111.66" stroke="#5a524c" stroke-width="0.9" stroke-linecap="round" />
<line x1="514.41" y1="116.91" x2="527.99" y2="109.45" stroke="#5a524c" stroke-width="0.9" stroke-linecap="round" />
<line x1="513.3" y1="114.76" x2="526.87" y2="107.29" stroke="#5a524c" stroke-width="0.9" stroke-linecap="round" />
<line x1="511.92" y1="112.78" x2="525.5" y2="105.32" stroke="#5a524c" stroke-width="0.9" stroke-linecap="round" />
<line x1="510.35" y1="111.08" x2="523.92" y2="103.61" stroke="#5a524c" stroke-width="0.9" stroke-linecap="round" />
<line x1="508.66" y1="109.74" x2="522.24" y2="102.27" stroke="#5a524c" stroke-width="0.9" stroke-linecap="round" />
<line x1="506.95" y1="108.83" x2="520.52" y2="101.37" stroke="#5a524c" stroke-width="0.9" stroke-linecap="round" />
<line x1="505.3" y1="108.4" x2="518.87" y2="100.94" stroke="#5a524c" stroke-width="0.9" stroke-linecap="round" />
<line x1="503.79" y1="108.47" x2="517.36" y2="101.01" stroke="#5a524c" stroke-width="0.9" stroke-linecap="round" />
<polygon points="514.86,123.29 514.79,122.07 514.59,120.8 514.26,119.49 513.81,118.17 513.24,116.86 512.57,115.58 511.8,114.36 510.95,113.21 510.04,112.16 509.07,111.22 508.07,110.4 507.05,109.74 506.03,109.22 505.03,108.87 504.06,108.69 503.14,108.68 502.29,108.84 501.52,109.17 500.85,109.67 500.28,110.32 499.83,111.12 499.5,112.04 499.3,113.08 499.24,114.22 499.3,115.44 499.5,116.71 499.83,118.02 500.28,119.34 500.85,120.65 501.52,121.93 502.29,123.15 503.14,124.3 504.06,125.35 505.03,126.29 506.03,127.11 507.05,127.78 508.07,128.29 509.07,128.64 510.04,128.82 510.95,128.83 511.8,128.67 512.57,128.34 513.24,127.84 513.81,127.19 514.26,126.39 514.59,125.47 514.79,124.43" fill="#4a4744" stroke="#1a1613" stroke-width="0.9" stroke-linejoin="round" />
<polygon points="420.8,158.7 420.86,157.74 421.03,156.86 421.31,156.08 421.69,155.4 422.17,154.85 422.74,154.43 502.38,110.65 503.03,110.37 503.75,110.23 504.52,110.24 505.34,110.4 506.19,110.69 507.05,111.13 507.91,111.69 508.76,112.38 509.57,113.18 510.35,114.07 511.07,115.04 511.72,116.07 512.28,117.15 512.76,118.26 513.15,119.38 513.42,120.48 513.59,121.56 513.65,122.59 513.59,123.55 513.42,124.43 513.15,125.21 512.76,125.89 512.28,126.44 511.72,126.86 432.08,170.64 431.43,170.92 430.71,171.06 429.93,171.05 429.12,170.89 428.27,170.6 427.41,170.16 426.55,169.6 425.7,168.91 424.88,168.11 424.11,167.22 423.39,166.25 422.74,165.22 422.17,164.14 421.69,163.03 421.31,161.91 421.03,160.81 420.86,159.73" fill="#cdd0de" stroke="#1d1f2d" stroke-width="1.5" stroke-linejoin="round" />
<polygon points="427.08,152.52 457.85,135.6 462.01,143.17 431.24,160.08" fill="#b2b5c3" stroke="none" stroke-width="0" stroke-linejoin="round" />
<line x1="431.24" y1="160.08" x2="462.01" y2="143.17" stroke="#1f2130" stroke-width="1.7"/>
<line x1="457.75" y1="135.43" x2="457.45" y2="143.43" stroke="#1f2130" stroke-width="1.3"/>
<line x1="461.37" y1="133.44" x2="461.07" y2="141.44" stroke="#1f2130" stroke-width="1.3"/>
<ellipse cx="467.25" cy="134.7" rx="3.6" ry="3.4" fill="#8e8f96" stroke="#1c1c22" stroke-width="1.5"/>
<ellipse cx="466.95" cy="135" rx="1.2" ry="1.1" fill="#2a2a2e"/>
<ellipse cx="431.71" cy="154.92" rx="8.8" ry="5.4" transform="rotate(-30 431.71 154.92)" fill="#3a3429" stroke="#1a1814" stroke-width="0.9"/>
<ellipse cx="433.51" cy="154.12" rx="1.9" ry="1.4" fill="#a39a7c"/>
<ellipse cx="428.51" cy="156.52" rx="1.5" ry="1.0" fill="#7d765e"/>
<polygon points="418.87,158.81 418.93,157.72 419.12,156.72 419.43,155.84 419.87,155.08 420.41,154.46 421.05,153.99 422.86,152.99 423.59,152.67 424.4,152.52 425.28,152.53 426.2,152.7 427.16,153.04 428.13,153.53 429.1,154.17 430.06,154.94 430.98,155.84 431.86,156.84 432.67,157.94 433.4,159.11 434.05,160.33 434.59,161.58 435.02,162.84 435.33,164.09 435.52,165.3 435.59,166.46 435.52,167.55 435.33,168.54 435.02,169.43 434.59,170.19 434.05,170.81 433.4,171.28 431.59,172.28 430.86,172.6 430.05,172.75 429.17,172.74 428.25,172.57 427.29,172.23 426.32,171.74 425.35,171.1 424.39,170.33 423.47,169.43 422.59,168.43 421.78,167.33 421.05,166.16 420.41,164.94 419.87,163.69 419.43,162.43 419.12,161.18 418.93,159.97" fill="#7f818e" stroke="#1e2029" stroke-width="1.2" stroke-linejoin="round" />
<polygon points="433.78,167.46 433.71,166.3 433.52,165.08 433.21,163.83 432.78,162.57 432.24,161.32 431.59,160.1 430.86,158.93 430.05,157.84 429.17,156.83 428.25,155.94 427.29,155.16 426.32,154.52 425.35,154.03 424.39,153.7 423.47,153.52 422.59,153.51 421.78,153.67 421.05,153.99 420.41,154.46 419.86,155.08 419.43,155.84 419.12,156.73 418.93,157.72 418.87,158.81 418.93,159.97 419.12,161.18 419.43,162.43 419.86,163.69 420.41,164.94 421.05,166.16 421.78,167.33 422.59,168.43 423.47,169.43 424.39,170.33 425.35,171.1 426.32,171.74 427.29,172.23 428.25,172.57 429.17,172.74 430.05,172.75 430.86,172.6 431.59,172.28 432.24,171.81 432.78,171.18 433.21,170.42 433.52,169.54 433.71,168.55" fill="#8f919e" stroke="#1e2029" stroke-width="1.3" stroke-linejoin="round" />
<polygon points="430.42,165.51 430.39,164.87 430.28,164.2 430.11,163.52 429.87,162.83 429.57,162.14 429.22,161.47 428.82,160.82 428.37,160.22 427.89,159.67 427.38,159.17 426.86,158.75 426.32,158.4 425.79,158.13 425.26,157.94 424.75,157.85 424.27,157.84 423.82,157.93 423.42,158.1 423.07,158.36 422.77,158.7 422.53,159.12 422.36,159.61 422.26,160.16 422.22,160.75 422.26,161.39 422.36,162.06 422.53,162.75 422.77,163.44 423.07,164.13 423.42,164.8 423.82,165.44 424.27,166.04 424.75,166.6 425.26,167.09 425.79,167.52 426.32,167.87 426.86,168.14 427.38,168.32 427.89,168.42 428.37,168.42 428.82,168.34 429.22,168.16 429.57,167.9 429.87,167.56 430.11,167.14 430.28,166.66 430.39,166.11" fill="#8a8c99" stroke="#2e3040" stroke-width="1.0" stroke-linejoin="round" />
<circle cx="426.32" cy="163.13" r="1.4" fill="#23252f"/>
<polygon points="519.49,125.97 519.55,124.83 519.75,123.79 520.08,122.87 520.53,122.07 521.1,121.42 521.77,120.92 536.62,112.76 537.38,112.43 538.23,112.27 539.15,112.28 540.12,112.46 541.12,112.81 542.14,113.33 543.16,114 544.16,114.81 545.13,115.75 546.04,116.8 546.89,117.95 547.66,119.17 548.33,120.45 548.9,121.76 549.35,123.08 549.68,124.39 549.88,125.66 549.95,126.88 549.88,128.02 549.68,129.06 549.35,129.99 548.9,130.78 548.33,131.43 547.66,131.93 532.82,140.09 532.05,140.42 531.2,140.58 530.28,140.57 529.32,140.39 528.32,140.04 527.3,139.53 526.28,138.86 525.27,138.04 524.31,137.1 523.39,136.05 522.54,134.9 521.77,133.68 521.1,132.4 520.53,131.09 520.08,129.77 519.75,128.46 519.55,127.19" fill="#27221f" stroke="#151210" stroke-width="1.0" stroke-linejoin="round" />
<line x1="533.83" y1="139.15" x2="547.41" y2="131.69" stroke="#5a524c" stroke-width="0.9" stroke-linecap="round" />
<line x1="534.88" y1="138.18" x2="548.45" y2="130.72" stroke="#5a524c" stroke-width="0.9" stroke-linecap="round" />
<line x1="535.59" y1="136.79" x2="549.16" y2="129.33" stroke="#5a524c" stroke-width="0.9" stroke-linecap="round" />
<line x1="535.93" y1="135.05" x2="549.5" y2="127.59" stroke="#5a524c" stroke-width="0.9" stroke-linecap="round" />
<line x1="535.88" y1="133.04" x2="549.46" y2="125.58" stroke="#5a524c" stroke-width="0.9" stroke-linecap="round" />
<line x1="535.45" y1="130.88" x2="549.03" y2="123.41" stroke="#5a524c" stroke-width="0.9" stroke-linecap="round" />
<line x1="534.66" y1="128.66" x2="548.24" y2="121.2" stroke="#5a524c" stroke-width="0.9" stroke-linecap="round" />
<line x1="533.55" y1="126.51" x2="547.12" y2="119.05" stroke="#5a524c" stroke-width="0.9" stroke-linecap="round" />
<line x1="532.17" y1="124.53" x2="545.75" y2="117.07" stroke="#5a524c" stroke-width="0.9" stroke-linecap="round" />
<line x1="530.6" y1="122.83" x2="544.17" y2="115.36" stroke="#5a524c" stroke-width="0.9" stroke-linecap="round" />
<line x1="528.91" y1="121.49" x2="542.49" y2="114.02" stroke="#5a524c" stroke-width="0.9" stroke-linecap="round" />
<line x1="527.2" y1="120.58" x2="540.77" y2="113.12" stroke="#5a524c" stroke-width="0.9" stroke-linecap="round" />
<line x1="525.54" y1="120.15" x2="539.12" y2="112.69" stroke="#5a524c" stroke-width="0.9" stroke-linecap="round" />
<line x1="524.04" y1="120.22" x2="537.61" y2="112.76" stroke="#5a524c" stroke-width="0.9" stroke-linecap="round" />
<polygon points="535.11,135.04 535.04,133.82 534.84,132.55 534.51,131.24 534.06,129.92 533.49,128.61 532.82,127.33 532.05,126.11 531.2,124.96 530.28,123.91 529.32,122.97 528.32,122.15 527.3,121.49 526.28,120.97 525.27,120.62 524.31,120.44 523.39,120.43 522.54,120.59 521.77,120.92 521.1,121.42 520.53,122.07 520.08,122.87 519.75,123.79 519.55,124.83 519.49,125.97 519.55,127.19 519.75,128.46 520.08,129.77 520.53,131.09 521.1,132.4 521.77,133.68 522.54,134.9 523.39,136.05 524.31,137.1 525.27,138.05 526.28,138.86 527.3,139.53 528.32,140.04 529.32,140.39 530.28,140.57 531.2,140.58 532.05,140.42 532.82,140.09 533.49,139.59 534.06,138.94 534.51,138.14 534.84,137.22 535.04,136.18" fill="#4a4744" stroke="#1a1613" stroke-width="0.9" stroke-linejoin="round" />
<polygon points="441.05,170.45 441.11,169.49 441.28,168.61 441.56,167.83 441.94,167.15 442.42,166.6 442.99,166.18 522.63,122.4 523.28,122.12 524,121.98 524.77,121.99 525.59,122.15 526.43,122.44 527.3,122.88 528.16,123.44 529,124.13 529.82,124.93 530.6,125.82 531.32,126.79 531.97,127.82 532.53,128.9 533.01,130.01 533.4,131.13 533.67,132.23 533.84,133.31 533.9,134.34 533.84,135.3 533.67,136.18 533.4,136.96 533.01,137.64 532.53,138.19 531.97,138.61 452.32,182.39 451.68,182.67 450.96,182.81 450.18,182.8 449.37,182.64 448.52,182.35 447.66,181.91 446.79,181.35 445.95,180.66 445.13,179.87 444.36,178.97 443.64,178 442.99,176.97 442.42,175.89 441.94,174.78 441.56,173.66 441.28,172.56 441.11,171.48" fill="#cdd0de" stroke="#1d1f2d" stroke-width="1.5" stroke-linejoin="round" />
<polygon points="447.33,164.27 478.1,147.35 482.26,154.92 451.49,171.83" fill="#b2b5c3" stroke="none" stroke-width="0" stroke-linejoin="round" />
<line x1="451.49" y1="171.83" x2="482.26" y2="154.92" stroke="#1f2130" stroke-width="1.7"/>
<line x1="478" y1="147.18" x2="477.7" y2="155.18" stroke="#1f2130" stroke-width="1.3"/>
<line x1="481.62" y1="145.19" x2="481.32" y2="153.19" stroke="#1f2130" stroke-width="1.3"/>
<ellipse cx="487.5" cy="146.45" rx="3.6" ry="3.4" fill="#8e8f96" stroke="#1c1c22" stroke-width="1.5"/>
<ellipse cx="487.2" cy="146.75" rx="1.2" ry="1.1" fill="#2a2a2e"/>
<ellipse cx="451.95" cy="166.67" rx="8.8" ry="5.4" transform="rotate(-30 451.95 166.67)" fill="#3a3429" stroke="#1a1814" stroke-width="0.9"/>
<ellipse cx="453.75" cy="165.87" rx="1.9" ry="1.4" fill="#a39a7c"/>
<ellipse cx="448.75" cy="168.27" rx="1.5" ry="1.0" fill="#7d765e"/>
<polygon points="439.12,170.56 439.18,169.47 439.37,168.47 439.68,167.59 440.11,166.83 440.66,166.21 441.3,165.74 443.11,164.74 443.84,164.42 444.65,164.27 445.53,164.28 446.45,164.45 447.41,164.79 448.38,165.28 449.35,165.92 450.31,166.69 451.23,167.59 452.11,168.59 452.92,169.69 453.65,170.86 454.3,172.08 454.84,173.33 455.27,174.59 455.58,175.84 455.77,177.05 455.83,178.21 455.77,179.3 455.58,180.29 455.27,181.18 454.84,181.94 454.3,182.56 453.65,183.03 451.84,184.03 451.11,184.35 450.3,184.5 449.42,184.49 448.5,184.32 447.54,183.98 446.57,183.49 445.6,182.85 444.64,182.08 443.72,181.18 442.84,180.18 442.03,179.08 441.3,177.91 440.66,176.69 440.11,175.44 439.68,174.18 439.37,172.93 439.18,171.72" fill="#7f818e" stroke="#1e2029" stroke-width="1.2" stroke-linejoin="round" />
<polygon points="454.03,179.21 453.96,178.05 453.77,176.83 453.46,175.58 453.03,174.32 452.48,173.07 451.84,171.85 451.11,170.69 450.3,169.59 449.42,168.58 448.5,167.69 447.54,166.91 446.57,166.27 445.6,165.78 444.64,165.45 443.72,165.27 442.84,165.26 442.03,165.42 441.3,165.74 440.66,166.21 440.11,166.83 439.68,167.59 439.37,168.48 439.18,169.47 439.12,170.56 439.18,171.72 439.37,172.93 439.68,174.18 440.11,175.44 440.66,176.69 441.3,177.91 442.03,179.08 442.84,180.18 443.72,181.18 444.64,182.08 445.6,182.85 446.57,183.49 447.54,183.98 448.5,184.32 449.42,184.49 450.3,184.5 451.11,184.35 451.84,184.03 452.48,183.56 453.03,182.93 453.46,182.17 453.77,181.29 453.96,180.3" fill="#8f919e" stroke="#1e2029" stroke-width="1.3" stroke-linejoin="round" />
<polygon points="450.67,177.26 450.64,176.62 450.53,175.96 450.36,175.27 450.12,174.58 449.82,173.89 449.47,173.22 449.07,172.57 448.62,171.97 448.14,171.42 447.63,170.92 447.11,170.5 446.57,170.15 446.03,169.88 445.51,169.69 445,169.6 444.52,169.59 444.07,169.68 443.67,169.85 443.32,170.11 443.02,170.45 442.78,170.87 442.61,171.36 442.5,171.91 442.47,172.5 442.5,173.14 442.61,173.81 442.78,174.5 443.02,175.19 443.32,175.88 443.67,176.55 444.07,177.19 444.52,177.79 445,178.35 445.51,178.84 446.03,179.27 446.57,179.62 447.11,179.89 447.63,180.07 448.14,180.17 448.62,180.17 449.07,180.09 449.47,179.91 449.82,179.65 450.12,179.31 450.36,178.89 450.53,178.41 450.64,177.86" fill="#8a8c99" stroke="#2e3040" stroke-width="1.0" stroke-linejoin="round" />
<circle cx="446.57" cy="174.88" r="1.4" fill="#23252f"/>
<polygon points="539.74,137.72 539.8,136.59 540,135.54 540.33,134.62 540.78,133.82 541.35,133.17 542.02,132.67 556.87,124.51 557.63,124.18 558.48,124.02 559.4,124.03 560.37,124.21 561.37,124.56 562.39,125.08 563.41,125.75 564.41,126.56 565.38,127.5 566.29,128.55 567.14,129.7 567.91,130.92 568.58,132.2 569.15,133.51 569.6,134.83 569.93,136.14 570.13,137.41 570.2,138.63 570.13,139.77 569.93,140.81 569.6,141.74 569.15,142.53 568.58,143.18 567.91,143.68 553.07,151.84 552.3,152.17 551.45,152.33 550.53,152.32 549.57,152.14 548.57,151.79 547.54,151.28 546.53,150.61 545.52,149.79 544.56,148.85 543.64,147.8 542.79,146.65 542.02,145.43 541.35,144.15 540.78,142.84 540.33,141.52 540,140.21 539.8,138.94" fill="#27221f" stroke="#151210" stroke-width="1.0" stroke-linejoin="round" />
<line x1="554.08" y1="150.9" x2="567.66" y2="143.44" stroke="#5a524c" stroke-width="0.9" stroke-linecap="round" />
<line x1="555.12" y1="149.93" x2="568.7" y2="142.47" stroke="#5a524c" stroke-width="0.9" stroke-linecap="round" />
<line x1="555.84" y1="148.54" x2="569.41" y2="141.08" stroke="#5a524c" stroke-width="0.9" stroke-linecap="round" />
<line x1="556.18" y1="146.8" x2="569.75" y2="139.34" stroke="#5a524c" stroke-width="0.9" stroke-linecap="round" />
<line x1="556.13" y1="144.79" x2="569.71" y2="137.33" stroke="#5a524c" stroke-width="0.9" stroke-linecap="round" />
<line x1="555.7" y1="142.63" x2="569.28" y2="135.16" stroke="#5a524c" stroke-width="0.9" stroke-linecap="round" />
<line x1="554.91" y1="140.41" x2="568.49" y2="132.95" stroke="#5a524c" stroke-width="0.9" stroke-linecap="round" />
<line x1="553.8" y1="138.26" x2="567.37" y2="130.8" stroke="#5a524c" stroke-width="0.9" stroke-linecap="round" />
<line x1="552.42" y1="136.28" x2="565.99" y2="128.82" stroke="#5a524c" stroke-width="0.9" stroke-linecap="round" />
<line x1="550.85" y1="134.58" x2="564.42" y2="127.11" stroke="#5a524c" stroke-width="0.9" stroke-linecap="round" />
<line x1="549.16" y1="133.24" x2="562.73" y2="125.77" stroke="#5a524c" stroke-width="0.9" stroke-linecap="round" />
<line x1="547.45" y1="132.33" x2="561.02" y2="124.87" stroke="#5a524c" stroke-width="0.9" stroke-linecap="round" />
<line x1="545.79" y1="131.9" x2="559.37" y2="124.44" stroke="#5a524c" stroke-width="0.9" stroke-linecap="round" />
<line x1="544.29" y1="131.97" x2="557.86" y2="124.51" stroke="#5a524c" stroke-width="0.9" stroke-linecap="round" />
<polygon points="555.36,146.79 555.29,145.57 555.09,144.3 554.76,142.99 554.31,141.67 553.74,140.36 553.07,139.08 552.3,137.86 551.45,136.71 550.53,135.66 549.57,134.72 548.56,133.9 547.55,133.24 546.53,132.72 545.52,132.37 544.56,132.19 543.64,132.18 542.79,132.34 542.02,132.67 541.35,133.17 540.78,133.82 540.33,134.62 540,135.54 539.8,136.59 539.74,137.72 539.8,138.94 540,140.21 540.33,141.52 540.78,142.84 541.35,144.15 542.02,145.43 542.79,146.65 543.64,147.8 544.56,148.85 545.52,149.8 546.53,150.61 547.55,151.28 548.56,151.79 549.57,152.14 550.53,152.32 551.45,152.33 552.3,152.17 553.07,151.84 553.74,151.34 554.31,150.69 554.76,149.89 555.09,148.97 555.29,147.93" fill="#4a4744" stroke="#1a1613" stroke-width="0.9" stroke-linejoin="round" />
<polygon points="461.3,182.2 461.36,181.24 461.53,180.36 461.81,179.58 462.19,178.9 462.67,178.35 463.24,177.93 542.88,134.15 543.53,133.87 544.24,133.74 545.02,133.74 545.84,133.9 546.68,134.19 547.54,134.63 548.41,135.19 549.25,135.88 550.07,136.68 550.85,137.57 551.57,138.54 552.21,139.57 552.78,140.65 553.26,141.76 553.65,142.88 553.92,143.98 554.09,145.06 554.15,146.09 554.09,147.05 553.92,147.93 553.65,148.71 553.26,149.39 552.78,149.94 552.21,150.36 472.57,194.14 471.93,194.42 471.21,194.56 470.43,194.55 469.61,194.39 468.77,194.1 467.9,193.66 467.04,193.1 466.2,192.41 465.38,191.62 464.6,190.72 463.89,189.75 463.24,188.72 462.67,187.64 462.19,186.53 461.81,185.41 461.53,184.31 461.36,183.23" fill="#cdd0de" stroke="#1d1f2d" stroke-width="1.5" stroke-linejoin="round" />
<polygon points="467.58,176.02 498.35,159.1 502.51,166.67 471.74,183.58" fill="#b2b5c3" stroke="none" stroke-width="0" stroke-linejoin="round" />
<line x1="471.74" y1="183.58" x2="502.51" y2="166.67" stroke="#1f2130" stroke-width="1.7"/>
<line x1="498.25" y1="158.93" x2="497.95" y2="166.93" stroke="#1f2130" stroke-width="1.3"/>
<line x1="501.87" y1="156.94" x2="501.57" y2="164.94" stroke="#1f2130" stroke-width="1.3"/>
<ellipse cx="507.75" cy="158.2" rx="3.6" ry="3.4" fill="#8e8f96" stroke="#1c1c22" stroke-width="1.5"/>
<ellipse cx="507.45" cy="158.5" rx="1.2" ry="1.1" fill="#2a2a2e"/>
<ellipse cx="472.2" cy="178.42" rx="8.8" ry="5.4" transform="rotate(-30 472.2 178.42)" fill="#3a3429" stroke="#1a1814" stroke-width="0.9"/>
<ellipse cx="474" cy="177.62" rx="1.9" ry="1.4" fill="#a39a7c"/>
<ellipse cx="469" cy="180.02" rx="1.5" ry="1.0" fill="#7d765e"/>
<polygon points="459.36,182.31 459.43,181.22 459.62,180.23 459.93,179.34 460.36,178.58 460.9,177.96 461.55,177.49 463.36,176.49 464.09,176.17 464.9,176.02 465.78,176.03 466.7,176.2 467.66,176.54 468.63,177.03 469.6,177.67 470.56,178.44 471.48,179.34 472.36,180.34 473.17,181.44 473.9,182.61 474.54,183.83 475.09,185.08 475.52,186.34 475.83,187.59 476.02,188.8 476.08,189.96 476.02,191.05 475.83,192.04 475.52,192.93 475.09,193.69 474.54,194.31 473.9,194.78 472.09,195.78 471.36,196.1 470.55,196.25 469.67,196.24 468.75,196.07 467.79,195.73 466.82,195.24 465.85,194.6 464.89,193.83 463.97,192.93 463.09,191.93 462.28,190.83 461.55,189.66 460.9,188.44 460.36,187.19 459.93,185.93 459.62,184.68 459.43,183.47" fill="#7f818e" stroke="#1e2029" stroke-width="1.2" stroke-linejoin="round" />
<polygon points="474.27,190.96 474.21,189.8 474.02,188.58 473.71,187.33 473.28,186.07 472.73,184.82 472.09,183.6 471.36,182.44 470.55,181.34 469.67,180.33 468.75,179.44 467.79,178.66 466.82,178.02 465.85,177.53 464.89,177.2 463.97,177.02 463.09,177.01 462.28,177.17 461.55,177.49 460.9,177.96 460.36,178.58 459.93,179.34 459.62,180.23 459.43,181.22 459.36,182.31 459.43,183.47 459.62,184.68 459.93,185.93 460.36,187.19 460.9,188.44 461.55,189.66 462.28,190.83 463.09,191.93 463.97,192.93 464.89,193.83 465.85,194.6 466.82,195.24 467.79,195.73 468.75,196.07 469.67,196.24 470.55,196.25 471.36,196.1 472.09,195.78 472.73,195.31 473.28,194.68 473.71,193.92 474.02,193.04 474.21,192.05" fill="#8f919e" stroke="#1e2029" stroke-width="1.3" stroke-linejoin="round" />
<polygon points="470.92,189.01 470.88,188.37 470.78,187.71 470.61,187.02 470.37,186.33 470.07,185.64 469.72,184.97 469.32,184.32 468.87,183.72 468.39,183.17 467.88,182.67 467.35,182.25 466.82,181.9 466.28,181.63 465.76,181.44 465.25,181.35 464.77,181.34 464.32,181.43 463.92,181.6 463.57,181.86 463.27,182.2 463.03,182.62 462.86,183.11 462.75,183.66 462.72,184.25 462.75,184.89 462.86,185.56 463.03,186.25 463.27,186.94 463.57,187.63 463.92,188.3 464.32,188.94 464.77,189.54 465.25,190.1 465.76,190.59 466.28,191.02 466.82,191.37 467.35,191.64 467.88,191.82 468.39,191.92 468.87,191.92 469.32,191.84 469.72,191.66 470.07,191.4 470.37,191.06 470.61,190.64 470.78,190.16 470.88,189.61" fill="#8a8c99" stroke="#2e3040" stroke-width="1.0" stroke-linejoin="round" />
<circle cx="466.82" cy="186.63" r="1.4" fill="#23252f"/>
<polygon points="559.99,149.47 560.05,148.34 560.25,147.29 560.58,146.37 561.03,145.57 561.6,144.92 562.27,144.42 577.11,136.26 577.88,135.93 578.73,135.77 579.65,135.78 580.62,135.96 581.62,136.31 582.64,136.83 583.66,137.5 584.66,138.31 585.62,139.25 586.54,140.3 587.39,141.45 588.16,142.67 588.83,143.95 589.4,145.26 589.85,146.58 590.18,147.89 590.38,149.16 590.45,150.38 590.38,151.52 590.18,152.56 589.85,153.49 589.4,154.28 588.83,154.93 588.16,155.43 573.32,163.59 572.55,163.92 571.7,164.08 570.78,164.07 569.82,163.89 568.81,163.54 567.79,163.03 566.77,162.36 565.77,161.55 564.81,160.6 563.89,159.55 563.04,158.4 562.27,157.18 561.6,155.9 561.03,154.59 560.58,153.27 560.25,151.96 560.05,150.69" fill="#27221f" stroke="#151210" stroke-width="1.0" stroke-linejoin="round" />
<line x1="574.33" y1="162.65" x2="587.91" y2="155.19" stroke="#5a524c" stroke-width="0.9" stroke-linecap="round" />
<line x1="575.37" y1="161.68" x2="588.95" y2="154.22" stroke="#5a524c" stroke-width="0.9" stroke-linecap="round" />
<line x1="576.09" y1="160.29" x2="589.66" y2="152.83" stroke="#5a524c" stroke-width="0.9" stroke-linecap="round" />
<line x1="576.43" y1="158.55" x2="590" y2="151.09" stroke="#5a524c" stroke-width="0.9" stroke-linecap="round" />
<line x1="576.38" y1="156.54" x2="589.96" y2="149.08" stroke="#5a524c" stroke-width="0.9" stroke-linecap="round" />
<line x1="575.95" y1="154.38" x2="589.53" y2="146.92" stroke="#5a524c" stroke-width="0.9" stroke-linecap="round" />
<line x1="575.16" y1="152.16" x2="588.74" y2="144.7" stroke="#5a524c" stroke-width="0.9" stroke-linecap="round" />
<line x1="574.05" y1="150.01" x2="587.62" y2="142.55" stroke="#5a524c" stroke-width="0.9" stroke-linecap="round" />
<line x1="572.67" y1="148.03" x2="586.24" y2="140.57" stroke="#5a524c" stroke-width="0.9" stroke-linecap="round" />
<line x1="571.1" y1="146.33" x2="584.67" y2="138.86" stroke="#5a524c" stroke-width="0.9" stroke-linecap="round" />
<line x1="569.41" y1="144.99" x2="582.98" y2="137.53" stroke="#5a524c" stroke-width="0.9" stroke-linecap="round" />
<line x1="567.7" y1="144.08" x2="581.27" y2="136.62" stroke="#5a524c" stroke-width="0.9" stroke-linecap="round" />
<line x1="566.04" y1="143.65" x2="579.62" y2="136.19" stroke="#5a524c" stroke-width="0.9" stroke-linecap="round" />
<line x1="564.54" y1="143.72" x2="578.11" y2="136.26" stroke="#5a524c" stroke-width="0.9" stroke-linecap="round" />
<polygon points="575.6,158.54 575.54,157.32 575.34,156.05 575.01,154.74 574.56,153.42 573.99,152.11 573.32,150.83 572.55,149.61 571.7,148.46 570.78,147.41 569.82,146.47 568.81,145.65 567.79,144.99 566.78,144.47 565.77,144.12 564.81,143.94 563.89,143.93 563.04,144.09 562.27,144.42 561.6,144.92 561.03,145.57 560.58,146.37 560.25,147.29 560.05,148.34 559.98,149.47 560.05,150.69 560.25,151.96 560.58,153.27 561.03,154.59 561.6,155.9 562.27,157.18 563.04,158.4 563.89,159.55 564.81,160.61 565.77,161.55 566.78,162.36 567.79,163.03 568.81,163.54 569.82,163.89 570.78,164.07 571.7,164.08 572.55,163.92 573.32,163.59 573.99,163.09 574.56,162.44 575.01,161.64 575.34,160.72 575.54,159.68" fill="#4a4744" stroke="#1a1613" stroke-width="0.9" stroke-linejoin="round" />
<polygon points="481.55,193.95 481.61,192.99 481.78,192.11 482.05,191.33 482.44,190.66 482.92,190.1 483.49,189.68 563.13,145.9 563.77,145.62 564.49,145.49 565.27,145.49 566.09,145.65 566.93,145.94 567.79,146.38 568.66,146.94 569.5,147.63 570.32,148.43 571.1,149.32 571.81,150.29 572.46,151.32 573.03,152.4 573.51,153.51 573.89,154.63 574.17,155.73 574.34,156.81 574.4,157.84 574.34,158.8 574.17,159.68 573.89,160.46 573.51,161.14 573.03,161.69 572.46,162.11 492.82,205.89 492.17,206.17 491.46,206.31 490.68,206.3 489.86,206.14 489.02,205.85 488.15,205.41 487.29,204.85 486.45,204.16 485.63,203.37 484.85,202.47 484.13,201.5 483.49,200.47 482.92,199.39 482.44,198.28 482.05,197.16 481.78,196.06 481.61,194.98" fill="#cdd0de" stroke="#1d1f2d" stroke-width="1.5" stroke-linejoin="round" />
<polygon points="487.83,187.77 518.6,170.85 522.76,178.42 491.99,195.33" fill="#b2b5c3" stroke="none" stroke-width="0" stroke-linejoin="round" />
<line x1="491.99" y1="195.33" x2="522.76" y2="178.42" stroke="#1f2130" stroke-width="1.7"/>
<line x1="518.5" y1="170.68" x2="518.2" y2="178.68" stroke="#1f2130" stroke-width="1.3"/>
<line x1="522.12" y1="168.69" x2="521.82" y2="176.69" stroke="#1f2130" stroke-width="1.3"/>
<ellipse cx="528" cy="169.95" rx="3.6" ry="3.4" fill="#8e8f96" stroke="#1c1c22" stroke-width="1.5"/>
<ellipse cx="527.7" cy="170.25" rx="1.2" ry="1.1" fill="#2a2a2e"/>
<ellipse cx="492.45" cy="190.17" rx="8.8" ry="5.4" transform="rotate(-30 492.45 190.17)" fill="#3a3429" stroke="#1a1814" stroke-width="0.9"/>
<ellipse cx="494.25" cy="189.37" rx="1.9" ry="1.4" fill="#a39a7c"/>
<ellipse cx="489.25" cy="191.77" rx="1.5" ry="1.0" fill="#7d765e"/>
<polygon points="479.61,194.06 479.68,192.97 479.87,191.98 480.18,191.09 480.61,190.33 481.15,189.71 481.8,189.24 483.61,188.24 484.34,187.92 485.15,187.77 486.03,187.78 486.95,187.95 487.9,188.29 488.88,188.78 489.85,189.42 490.81,190.19 491.73,191.09 492.61,192.09 493.42,193.19 494.15,194.36 494.79,195.58 495.33,196.83 495.77,198.09 496.08,199.34 496.27,200.55 496.33,201.71 496.27,202.8 496.08,203.79 495.77,204.68 495.33,205.44 494.79,206.06 494.15,206.53 492.34,207.53 491.61,207.85 490.8,208 489.92,207.99 489,207.82 488.04,207.48 487.07,206.99 486.1,206.35 485.14,205.58 484.22,204.68 483.34,203.68 482.53,202.58 481.8,201.41 481.15,200.19 480.61,198.94 480.18,197.68 479.87,196.43 479.68,195.22" fill="#7f818e" stroke="#1e2029" stroke-width="1.2" stroke-linejoin="round" />
<polygon points="494.52,202.71 494.46,201.55 494.27,200.33 493.96,199.08 493.52,197.82 492.98,196.57 492.34,195.35 491.61,194.19 490.8,193.09 489.92,192.08 489,191.19 488.04,190.41 487.07,189.77 486.1,189.28 485.14,188.95 484.22,188.77 483.34,188.76 482.53,188.92 481.8,189.24 481.15,189.71 480.61,190.33 480.18,191.09 479.87,191.98 479.68,192.97 479.61,194.06 479.68,195.22 479.87,196.43 480.18,197.68 480.61,198.94 481.15,200.19 481.8,201.41 482.53,202.58 483.34,203.68 484.22,204.68 485.14,205.58 486.1,206.35 487.07,206.99 488.04,207.48 489,207.82 489.92,207.99 490.8,208 491.61,207.85 492.34,207.53 492.98,207.06 493.52,206.43 493.96,205.67 494.27,204.79 494.46,203.8" fill="#8f919e" stroke="#1e2029" stroke-width="1.3" stroke-linejoin="round" />
<polygon points="491.17,200.76 491.13,200.12 491.03,199.46 490.86,198.77 490.62,198.08 490.32,197.39 489.97,196.72 489.56,196.07 489.12,195.47 488.64,194.92 488.13,194.42 487.6,194 487.07,193.65 486.53,193.38 486.01,193.19 485.5,193.1 485.02,193.09 484.57,193.18 484.17,193.35 483.82,193.61 483.52,193.95 483.28,194.37 483.11,194.86 483,195.41 482.97,196 483,196.64 483.11,197.31 483.28,198 483.52,198.69 483.82,199.38 484.17,200.05 484.57,200.69 485.02,201.29 485.5,201.85 486.01,202.34 486.53,202.77 487.07,203.12 487.6,203.39 488.13,203.57 488.64,203.67 489.12,203.67 489.56,203.59 489.97,203.41 490.32,203.15 490.62,202.81 490.86,202.39 491.03,201.91 491.13,201.36" fill="#8a8c99" stroke="#2e3040" stroke-width="1.0" stroke-linejoin="round" />
<circle cx="487.07" cy="198.38" r="1.4" fill="#23252f"/>
<polygon points="580.23,161.22 580.3,160.09 580.5,159.04 580.83,158.12 581.28,157.32 581.85,156.67 582.52,156.17 597.36,148.01 598.13,147.68 598.98,147.52 599.9,147.53 600.86,147.71 601.87,148.06 602.89,148.58 603.9,149.25 604.91,150.06 605.88,151 606.79,152.05 607.64,153.2 608.41,154.42 609.08,155.7 609.65,157.01 610.1,158.33 610.43,159.64 610.63,160.91 610.7,162.13 610.63,163.27 610.43,164.31 610.1,165.24 609.65,166.03 609.08,166.68 608.41,167.18 593.57,175.34 592.8,175.67 591.95,175.83 591.03,175.82 590.07,175.64 589.06,175.29 588.04,174.78 587.02,174.11 586.02,173.3 585.05,172.35 584.14,171.3 583.29,170.15 582.52,168.93 581.85,167.65 581.28,166.34 580.83,165.02 580.5,163.71 580.3,162.44" fill="#27221f" stroke="#151210" stroke-width="1.0" stroke-linejoin="round" />
<line x1="594.58" y1="174.4" x2="608.15" y2="166.94" stroke="#5a524c" stroke-width="0.9" stroke-linecap="round" />
<line x1="595.62" y1="173.43" x2="609.2" y2="165.97" stroke="#5a524c" stroke-width="0.9" stroke-linecap="round" />
<line x1="596.33" y1="172.04" x2="609.91" y2="164.58" stroke="#5a524c" stroke-width="0.9" stroke-linecap="round" />
<line x1="596.68" y1="170.3" x2="610.25" y2="162.84" stroke="#5a524c" stroke-width="0.9" stroke-linecap="round" />
<line x1="596.63" y1="168.29" x2="610.21" y2="160.83" stroke="#5a524c" stroke-width="0.9" stroke-linecap="round" />
<line x1="596.2" y1="166.13" x2="609.78" y2="158.67" stroke="#5a524c" stroke-width="0.9" stroke-linecap="round" />
<line x1="595.41" y1="163.91" x2="608.99" y2="156.45" stroke="#5a524c" stroke-width="0.9" stroke-linecap="round" />
<line x1="594.3" y1="161.76" x2="607.87" y2="154.3" stroke="#5a524c" stroke-width="0.9" stroke-linecap="round" />
<line x1="592.92" y1="159.78" x2="606.49" y2="152.32" stroke="#5a524c" stroke-width="0.9" stroke-linecap="round" />
<line x1="591.34" y1="158.08" x2="604.92" y2="150.61" stroke="#5a524c" stroke-width="0.9" stroke-linecap="round" />
<line x1="589.66" y1="156.74" x2="603.23" y2="149.28" stroke="#5a524c" stroke-width="0.9" stroke-linecap="round" />
<line x1="587.94" y1="155.83" x2="601.52" y2="148.37" stroke="#5a524c" stroke-width="0.9" stroke-linecap="round" />
<line x1="586.29" y1="155.4" x2="599.87" y2="147.94" stroke="#5a524c" stroke-width="0.9" stroke-linecap="round" />
<line x1="584.78" y1="155.47" x2="598.36" y2="148.01" stroke="#5a524c" stroke-width="0.9" stroke-linecap="round" />
<polygon points="595.85,170.29 595.79,169.07 595.59,167.8 595.26,166.49 594.81,165.17 594.24,163.86 593.57,162.58 592.8,161.36 591.95,160.21 591.03,159.16 590.07,158.22 589.06,157.4 588.04,156.74 587.02,156.22 586.02,155.87 585.05,155.69 584.14,155.68 583.29,155.84 582.52,156.17 581.85,156.67 581.28,157.32 580.83,158.12 580.5,159.04 580.3,160.09 580.23,161.22 580.3,162.44 580.5,163.71 580.83,165.02 581.28,166.34 581.85,167.65 582.52,168.93 583.29,170.15 584.14,171.3 585.05,172.36 586.02,173.3 587.02,174.11 588.04,174.78 589.06,175.29 590.07,175.64 591.03,175.82 591.95,175.83 592.8,175.67 593.57,175.34 594.24,174.84 594.81,174.19 595.26,173.4 595.59,172.47 595.79,171.43" fill="#4a4744" stroke="#1a1613" stroke-width="0.9" stroke-linejoin="round" />
<polygon points="501.8,205.71 501.86,204.74 502.03,203.86 502.3,203.08 502.69,202.41 503.17,201.85 503.74,201.43 583.38,157.65 584.02,157.37 584.74,157.24 585.52,157.24 586.34,157.4 587.18,157.69 588.04,158.13 588.91,158.7 589.75,159.38 590.57,160.18 591.35,161.07 592.06,162.04 592.71,163.07 593.28,164.15 593.76,165.26 594.14,166.38 594.42,167.48 594.59,168.56 594.65,169.59 594.59,170.55 594.42,171.43 594.14,172.21 593.76,172.89 593.28,173.44 592.71,173.86 513.07,217.64 512.42,217.92 511.7,218.06 510.93,218.05 510.11,217.89 509.27,217.6 508.4,217.16 507.54,216.6 506.69,215.91 505.88,215.12 505.1,214.22 504.38,213.25 503.74,212.22 503.17,211.14 502.69,210.03 502.3,208.91 502.03,207.81 501.86,206.73" fill="#cdd0de" stroke="#1d1f2d" stroke-width="1.5" stroke-linejoin="round" />
<polygon points="508.08,199.52 538.85,182.6 543.01,190.17 512.24,207.08" fill="#b2b5c3" stroke="none" stroke-width="0" stroke-linejoin="round" />
<line x1="512.24" y1="207.08" x2="543.01" y2="190.17" stroke="#1f2130" stroke-width="1.7"/>
<line x1="538.75" y1="182.43" x2="538.45" y2="190.43" stroke="#1f2130" stroke-width="1.3"/>
<line x1="542.37" y1="180.44" x2="542.07" y2="188.44" stroke="#1f2130" stroke-width="1.3"/>
<ellipse cx="548.25" cy="181.7" rx="3.6" ry="3.4" fill="#8e8f96" stroke="#1c1c22" stroke-width="1.5"/>
<ellipse cx="547.95" cy="182" rx="1.2" ry="1.1" fill="#2a2a2e"/>
<ellipse cx="512.7" cy="201.92" rx="8.8" ry="5.4" transform="rotate(-30 512.7 201.92)" fill="#3a3429" stroke="#1a1814" stroke-width="0.9"/>
<ellipse cx="514.5" cy="201.12" rx="1.9" ry="1.4" fill="#a39a7c"/>
<ellipse cx="509.5" cy="203.52" rx="1.5" ry="1.0" fill="#7d765e"/>
<polygon points="499.86,205.81 499.93,204.72 500.12,203.73 500.43,202.84 500.86,202.08 501.4,201.46 502.05,200.99 503.86,199.99 504.59,199.67 505.4,199.52 506.27,199.53 507.2,199.7 508.15,200.04 509.13,200.53 510.1,201.17 511.06,201.94 511.98,202.84 512.86,203.84 513.67,204.94 514.4,206.11 515.04,207.33 515.58,208.58 516.01,209.84 516.33,211.09 516.52,212.3 516.58,213.46 516.52,214.55 516.33,215.54 516.01,216.43 515.58,217.19 515.04,217.81 514.4,218.28 512.59,219.28 511.86,219.6 511.05,219.75 510.17,219.74 509.25,219.57 508.29,219.23 507.32,218.74 506.35,218.1 505.39,217.33 504.46,216.43 503.59,215.43 502.78,214.33 502.05,213.16 501.4,211.94 500.86,210.69 500.43,209.43 500.12,208.18 499.93,206.97" fill="#7f818e" stroke="#1e2029" stroke-width="1.2" stroke-linejoin="round" />
<polygon points="514.77,214.46 514.71,213.3 514.52,212.08 514.21,210.83 513.77,209.57 513.23,208.32 512.59,207.1 511.86,205.94 511.05,204.84 510.17,203.83 509.25,202.94 508.29,202.16 507.32,201.52 506.34,201.03 505.39,200.7 504.46,200.52 503.59,200.51 502.78,200.67 502.05,200.99 501.4,201.46 500.86,202.08 500.43,202.84 500.12,203.73 499.93,204.72 499.86,205.81 499.93,206.97 500.12,208.18 500.43,209.43 500.86,210.69 501.4,211.94 502.05,213.16 502.78,214.33 503.59,215.43 504.46,216.43 505.39,217.33 506.34,218.1 507.32,218.74 508.29,219.23 509.25,219.57 510.17,219.74 511.05,219.75 511.86,219.6 512.59,219.28 513.23,218.81 513.77,218.18 514.21,217.42 514.52,216.54 514.71,215.55" fill="#8f919e" stroke="#1e2029" stroke-width="1.3" stroke-linejoin="round" />
<polygon points="511.42,212.51 511.38,211.87 511.28,211.21 511.11,210.52 510.87,209.83 510.57,209.14 510.22,208.47 509.81,207.82 509.37,207.22 508.89,206.67 508.38,206.17 507.85,205.75 507.32,205.4 506.78,205.13 506.26,204.94 505.75,204.85 505.27,204.84 504.82,204.93 504.42,205.1 504.06,205.36 503.77,205.7 503.53,206.12 503.36,206.61 503.25,207.16 503.22,207.75 503.25,208.39 503.36,209.06 503.53,209.75 503.77,210.44 504.06,211.13 504.42,211.8 504.82,212.44 505.27,213.04 505.75,213.6 506.26,214.09 506.78,214.52 507.32,214.87 507.85,215.14 508.38,215.32 508.89,215.42 509.37,215.42 509.81,215.34 510.22,215.16 510.57,214.9 510.87,214.56 511.11,214.14 511.28,213.66 511.38,213.11" fill="#8a8c99" stroke="#2e3040" stroke-width="1.0" stroke-linejoin="round" />
<circle cx="507.32" cy="210.13" r="1.4" fill="#23252f"/>
</svg></body></html>
